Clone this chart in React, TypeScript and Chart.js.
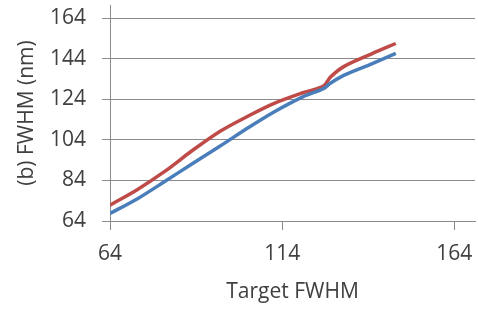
import React, { useEffect, useRef } from "react";
import { Chart, registerables } from "chart.js";

Chart.register(...registerables);

const targetFwhm = [64, 72, 80, 88, 96, 104, 112, 120, 126, 128, 132, 140, 147];
const blueSeries = [67.7, 75.0, 83.6, 92.4, 101, 109.9, 118.2, 125.3, 129.3, 132, 136, 141.6, 146.7];
const redSeries = [71.8, 79.6, 88.6, 98.9, 108.3, 115.7, 122.3, 127.3, 130.6, 135, 140.3, 146.5, 151.6];
const xTicks = [64, 114, 164];
const yTicks = [64, 84, 104, 124, 144, 164];
const xTitle = "Target FWHM";
const yTitle = "(b) FWHM (nm)";

const FONT = "'Open Sans', 'Noto Sans', sans-serif";
const TEXT = "#404040";
const GRID = "#8a8a8a";

export default function App() {
  const ref = useRef<HTMLCanvasElement | null>(null);
  useEffect(() => {
    if (!ref.current) return;
    const pts = (ys: number[]) => targetFwhm.map((x, i) => ({ x, y: ys[i] }));
    const chart = new Chart(ref.current, {
      type: "line",
      data: {
        datasets: [
          {
            data: pts(blueSeries),
            borderColor: "#4a7ebb",
            borderWidth: 3.5,
            pointRadius: 0,
            tension: 0.3,
            fill: false,
          },
          {
            data: pts(redSeries),
            borderColor: "#be4b48",
            borderWidth: 3.5,
            pointRadius: 0,
            tension: 0.3,
            fill: false,
          },
        ],
      },
      options: {
        animation: false,
        responsive: false,
        devicePixelRatio: 1,
        layout: { padding: { top: 5, right: 3, left: 0, bottom: 0 } },
        plugins: { legend: { display: false }, tooltip: { enabled: false } },
        scales: {
          x: {
            type: "linear",
            min: 64,
            max: 170,
            afterBuildTicks: (s: any) => {
              s.ticks = xTicks.map((v) => ({ value: v }));
            },
            afterFit: (s: any) => {
              s.height = 88;
              s.paddingLeft = 0;
              s.paddingRight = 0;
            },
            border: { color: GRID, width: 1 },
            grid: {
              drawOnChartArea: false,
              drawTicks: true,
              tickLength: 9,
              color: GRID,
            },
            ticks: {
              color: TEXT,
              font: { family: FONT, size: 21 },
              padding: 11,
              maxRotation: 0,
              autoSkip: false,
            },
            title: {
              display: true,
              text: xTitle,
              color: TEXT,
              font: { family: FONT, size: 21, lineHeight: 1.2 },
              padding: { top: 0, bottom: 4 },
            },
          },
          y: {
            type: "linear",
            min: 64,
            max: 170.6,
            afterBuildTicks: (s: any) => {
              s.ticks = yTicks.map((v) => ({ value: v }));
            },
            afterFit: (s: any) => {
              s.width = 110;
              s.paddingTop = 0;
              s.paddingBottom = 0;
            },
            border: { color: GRID, width: 1 },
            grid: {
              drawOnChartArea: true,
              drawTicks: true,
              tickLength: 8,
              color: GRID,
            },
            ticks: {
              color: TEXT,
              font: { family: FONT, size: 21 },
              padding: 16,
              autoSkip: false,
            },
            title: {
              display: true,
              text: yTitle,
              color: TEXT,
              font: { family: FONT, size: 21, lineHeight: 1.2 },
              padding: { top: 14, bottom: 0 },
            },
          },
        },
      },
    });
    return () => chart.destroy();
  }, []);
  return (
    <div style={{ position: "absolute", left: 0, top: 0, width: 478, height: 309, background: "#fff" }}>
      <canvas ref={ref} width={478} height={309} style={{ display: "block" }} />
    </div>
  );
}
